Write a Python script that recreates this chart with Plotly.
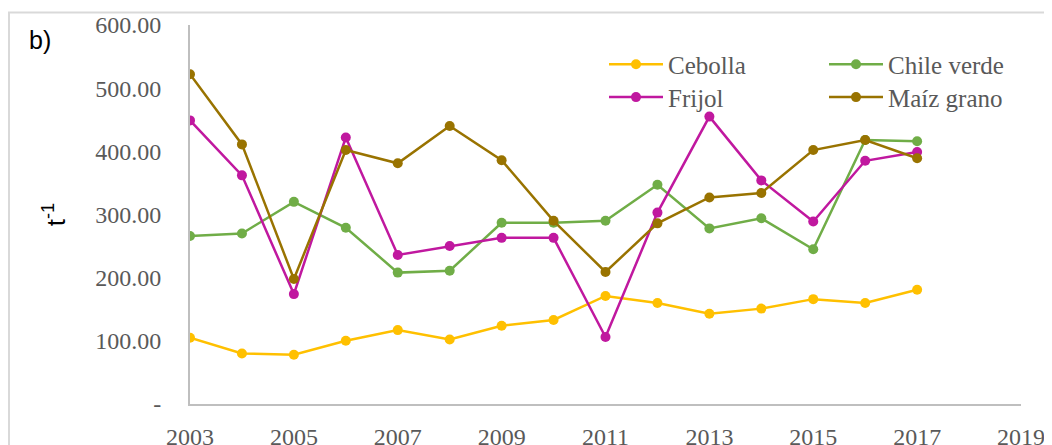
import plotly.graph_objects as go

years = list(range(2003, 2018))
cebolla = [105, 80, 78, 100, 117, 102, 124, 133, 171, 160, 143, 151, 166, 160, 181]
chile_verde = [266, 270, 320, 279, 208, 211, 287, 287, 290, 347, 278, 294, 245, 418, 416]
frijol = [449, 362, 174, 422, 236, 250, 263, 263, 106, 303, 455, 354, 289, 385, 399]
maiz_grano = [522, 411, 198, 402, 381, 440, 386, 290, 209, 286, 327, 334, 402, 418, 389]

y_tickvals = [0, 100, 200, 300, 400, 500, 600]
y_ticktext = ["-", "100.00", "200.00", "300.00", "400.00", "500.00", "600.00"]
x_tickvals = list(range(2003, 2020, 2))

series = [
    ("Cebolla", cebolla, "#FFC000", "legend"),
    ("Chile verde", chile_verde, "#70AD47", "legend2"),
    ("Frijol", frijol, "#C0189F", "legend3"),
    ("Maíz grano", maiz_grano, "#997300", "legend4"),
]

fig = go.Figure()
for name, vals, color, lg in series:
    fig.add_trace(go.Scatter(
        x=years, y=vals, name=name, mode="lines+markers",
        line=dict(color=color, width=2.5),
        marker=dict(color=color, size=10),
        legend=lg,
    ))

OFF = 8  # page body margin
W, H = 1052 - OFF, 445 - OFF
PL, PR, PT, PB = 190, 1021, 24.5, 404.3  # screenshot pixels of the plot area
def px_x(v):
    return (v - PL) / (PR - PL)
def px_y(v):
    return (PB - v) / (PB - PT)

legend_font = dict(family="Liberation Serif", size=25, color="#595959")
def leg(xpix, ypix):
    return dict(x=px_x(xpix), y=px_y(ypix), xanchor="left", yanchor="middle",
                font=legend_font, bgcolor="rgba(0,0,0,0)", itemwidth=54)

fig.update_layout(
    width=W, height=H,
    margin=dict(l=PL - OFF, r=W - (PR - OFF), t=PT - OFF, b=H - (PB - OFF), pad=0),
    paper_bgcolor="white", plot_bgcolor="white",
    showlegend=True,
    legend=leg(604, 64),
    legend2=leg(824, 64),
    legend3=leg(604, 97),
    legend4=leg(824, 97),
    xaxis=dict(range=[2003, 2019], tickvals=x_tickvals, showgrid=False, zeroline=False,
               showline=True, linecolor="#BFBFBF", linewidth=2, ticks="",
               ticklabelstandoff=10, automargin=False,
               tickfont=dict(family="Liberation Serif", size=24, color="#595959")),
    yaxis=dict(range=[0, 600], tickvals=y_tickvals, ticktext=y_ticktext, showgrid=False,
               zeroline=False, showline=True, linecolor="#BFBFBF", linewidth=2, ticks="",
               ticklabelstandoff=22, automargin=False,
               tickfont=dict(family="Liberation Serif", size=24, color="#595959"),
               title=dict(text="t<sup>-1</sup>", standoff=22,
                          font=dict(family="Liberation Sans", size=26, color="#000000"))),
    annotations=[dict(text="b)", xref="paper", yref="paper",
                      x=px_x(40), y=px_y(40),
                      xanchor="center", yanchor="middle", showarrow=False,
                      font=dict(family="Liberation Sans", size=25, color="#000000"))],
    shapes=[dict(type="rect", xref="paper", yref="paper",
                 x0=px_x(9), x1=px_x(1070),
                 y0=px_y(470), y1=px_y(12),
                 line=dict(color="#D9D9D9", width=2), fillcolor="rgba(0,0,0,0)", layer="below")],
)

fig.write_html("out.html")
